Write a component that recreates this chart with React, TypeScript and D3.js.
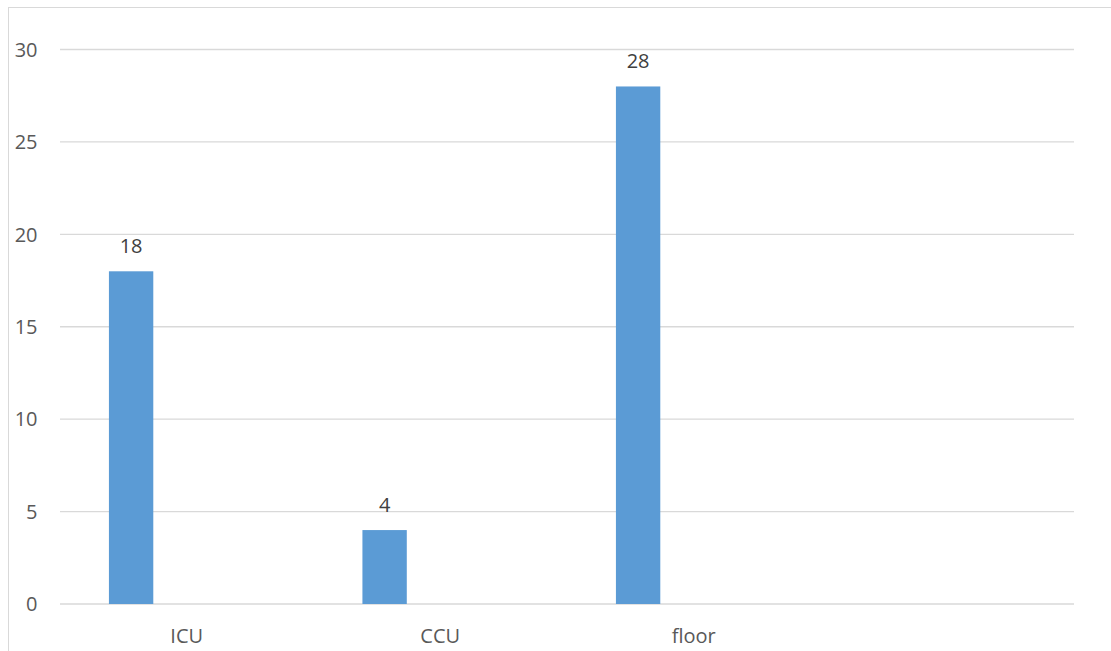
import React from "react";
import * as d3 from "d3";

// Counts per unit; the fourth slot is an empty category on the axis.
const categories: string[] = ["ICU", "CCU", "floor", ""];
const counts: (number | null)[] = [18, 4, 28, null];
const yTicks: number[] = [0, 5, 10, 15, 20, 25, 30];

const W = 1111;
const H = 651;
const plot = { left: 60, right: 1074, top: 49.5, bottom: 604 };
const FONT = "'Open Sans', 'Liberation Sans', sans-serif";
const FS = 20;

export default function App() {
  const x = d3
    .scaleBand<string>()
    .domain(categories.map((c, i) => `${i}`))
    .range([plot.left, plot.right])
    .padding(0);
  const y = d3.scaleLinear().domain([0, 30]).range([plot.bottom, plot.top]);

  const slot = x.bandwidth();
  const barOffset = slot * 0.193;
  const barWidth = slot * 0.175;

  return (
    <svg
      width={W}
      height={H}
      style={{ position: "absolute", left: 0, top: 0, background: "#fff" }}
      fontFamily={FONT}
    >
      <rect x={8.5} y={7.5} width={W + 10} height={H + 10} fill="#fff" stroke="#d9d9d9" strokeWidth={1} />
      {yTicks.map((t) => (
        <g key={t}>
          <line x1={plot.left} x2={plot.right} y1={y(t)} y2={y(t)} stroke="#d9d9d9" strokeWidth={1.3} />
          <text x={37.5} y={y(t)} dy="0.36em" textAnchor="end" fontSize={FS} fill="#595959">
            {t}
          </text>
        </g>
      ))}
      {categories.map((c, i) => {
        const x0 = x(`${i}`)!;
        const v = counts[i];
        return (
          <g key={i}>
            {v != null && (
              <>
                <rect x={x0 + barOffset} y={y(v)} width={barWidth} height={y(0) - y(v)} fill="#5b9bd5" />
                <text
                  x={x0 + barOffset + barWidth / 2}
                  y={y(v) - 18.5}
                  textAnchor="middle"
                  fontSize={FS}
                  fill="#404040"
                >
                  {v}
                </text>
              </>
            )}
            <text x={x0 + slot / 2} y={642.5} textAnchor="middle" fontSize={FS} fill="#595959">
              {c}
            </text>
          </g>
        );
      })}
    </svg>
  );
}
